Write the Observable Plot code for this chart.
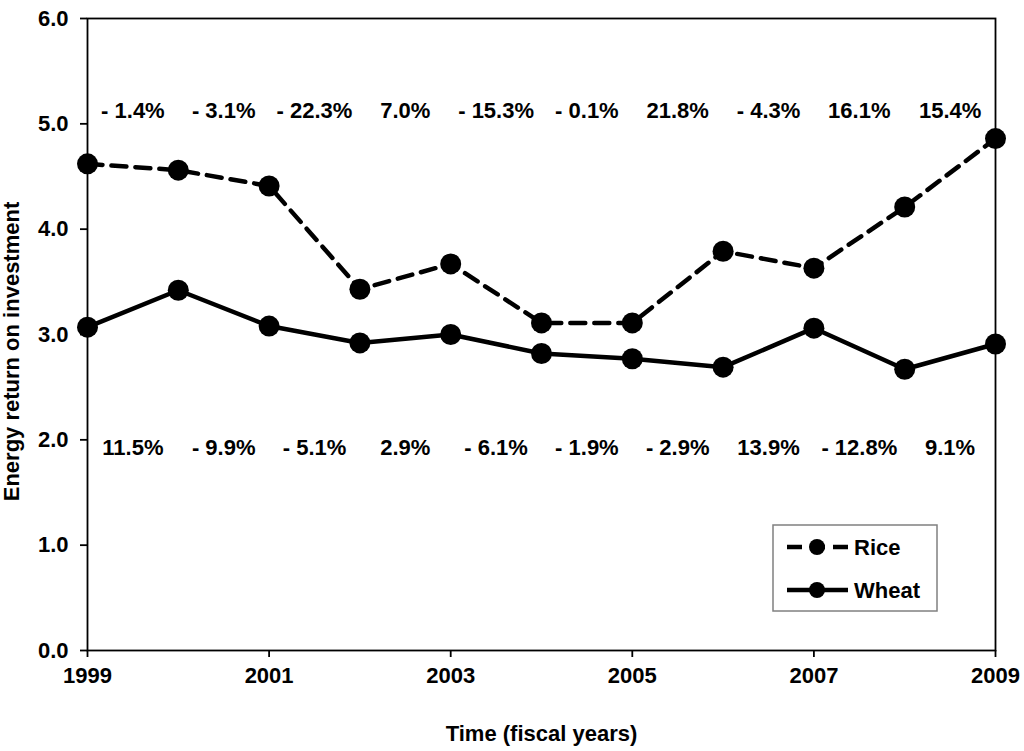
<!DOCTYPE html>
<html><head><meta charset="utf-8">
<script src="https://cdn.jsdelivr.net/npm/d3@7"></script>
<script src="https://cdn.jsdelivr.net/npm/@observablehq/plot@0.6"></script>
<style>
body{margin:0;background:#fff;}
#wrap{position:relative;width:1024px;height:751px;font-family:"Liberation Sans",Arial,sans-serif;}
#legend{position:absolute;left:772px;top:524px;}
</style>
</head><body><div id="wrap"></div>
<script>
const years = [1999, 2000, 2001, 2002, 2003, 2004, 2005, 2006, 2007, 2008, 2009];
const rice = [4.62, 4.56, 4.41, 3.43, 3.67, 3.11, 3.11, 3.79, 3.63, 4.21, 4.86];
const wheat = [3.07, 3.42, 3.08, 2.92, 3.00, 2.82, 2.77, 2.69, 3.06, 2.67, 2.91];
const riceChange = ["- 1.4%", "- 3.1%", "- 22.3%", "7.0%", "- 15.3%", "- 0.1%", "21.8%", "- 4.3%", "16.1%", "15.4%"];
const wheatChange = ["11.5%", "- 9.9%", "- 5.1%", "2.9%", "- 6.1%", "- 1.9%", "- 2.9%", "13.9%", "- 12.8%", "9.1%"];
const xTicks = [1999, 2001, 2003, 2005, 2007, 2009];
const yTicks = [0, 1, 2, 3, 4, 5, 6];
const seriesNames = ["Rice", "Wheat"];

const riceData = years.map((y, i) => ({year: y, value: rice[i]}));
const wheatData = years.map((y, i) => ({year: y, value: wheat[i]}));
const mid = (i) => (years[i] + years[i + 1]) / 2;
const riceLabels = riceChange.map((t, i) => ({x: mid(i), text: t}));
const wheatLabels = wheatChange.map((t, i) => ({x: mid(i), text: t}));

const font = '"Liberation Sans", Arial, sans-serif';

const chart = Plot.plot({
  width: 1024,
  height: 751,
  marginLeft: 87,
  marginRight: 29,
  marginTop: 18,
  marginBottom: 101,
  style: {fontFamily: font, fontWeight: "bold", fontSize: "22px", color: "#000", background: "#fff"},
  x: {domain: [1999, 2009]},
  y: {domain: [0, 6]},
  marks: [
    Plot.frame({stroke: "#000", strokeWidth: 1.8}),
    Plot.axisX({ticks: xTicks, tickFormat: d => String(d), tickSize: 7, tickPadding: 10,
      label: "Time (fiscal years)", labelAnchor: "center", labelArrow: "none", labelOffset: 90,
      fontSize: 22, fontWeight: "bold", strokeWidth: 1.8}),
    Plot.axisY({ticks: yTicks, tickFormat: d3.format(".1f"), tickSize: 7, tickPadding: 12,
      label: "Energy return on investment", labelAnchor: "center", labelArrow: "none", labelOffset: 84,
      fontSize: 22, fontWeight: "bold", strokeWidth: 1.8}),
    Plot.line(riceData, {x: "year", y: "value", stroke: "#000", strokeWidth: 4.5, strokeDasharray: "15,9"}),
    Plot.line(wheatData, {x: "year", y: "value", stroke: "#000", strokeWidth: 4.5}),
    Plot.dot(riceData, {x: "year", y: "value", r: 10.5, fill: "#000"}),
    Plot.dot(wheatData, {x: "year", y: "value", r: 10.5, fill: "#000"}),
    Plot.text(riceLabels, {x: "x", y: () => 5.12, text: "text", fontSize: 22, fontWeight: "bold", fill: "#000"}),
    Plot.text(wheatLabels, {x: "x", y: () => 1.92, text: "text", fontSize: 22, fontWeight: "bold", fill: "#000"})
  ]
});
const wrap = document.getElementById("wrap");
wrap.appendChild(chart);
// nudge the y-axis title down slightly, as in the reference (wrap it so its own transform is kept)
chart.querySelectorAll("g[aria-label='y-axis label']").forEach(g => {
  const outer = document.createElementNS("http://www.w3.org/2000/svg", "g");
  outer.setAttribute("transform", "translate(0,17)");
  g.parentNode.insertBefore(outer, g);
  outer.appendChild(g);
});

// legend
const lg = d3.create("svg").attr("id", "legend").attr("width", 167).attr("height", 89)
  .style("font-family", font);
lg.append("rect").attr("x", 1).attr("y", 1).attr("width", 164).attr("height", 86)
  .attr("fill", "#fff").attr("stroke", "#808080").attr("stroke-width", 1.5);
seriesNames.forEach((name, i) => {
  const cy = 23 + i * 43;
  lg.append("line").attr("x1", 15).attr("x2", 76).attr("y1", cy).attr("y2", cy)
    .attr("stroke", "#000").attr("stroke-width", 4.5)
    .attr("stroke-dasharray", i === 0 ? "15,8" : null);
  lg.append("circle").attr("cx", 45).attr("cy", cy).attr("r", 8).attr("fill", "#000");
  lg.append("text").attr("x", 82).attr("y", cy).attr("dy", "0.35em")
    .attr("font-size", 22).attr("font-weight", "bold").text(name);
});
wrap.appendChild(lg.node());
</script>
</body></html>
